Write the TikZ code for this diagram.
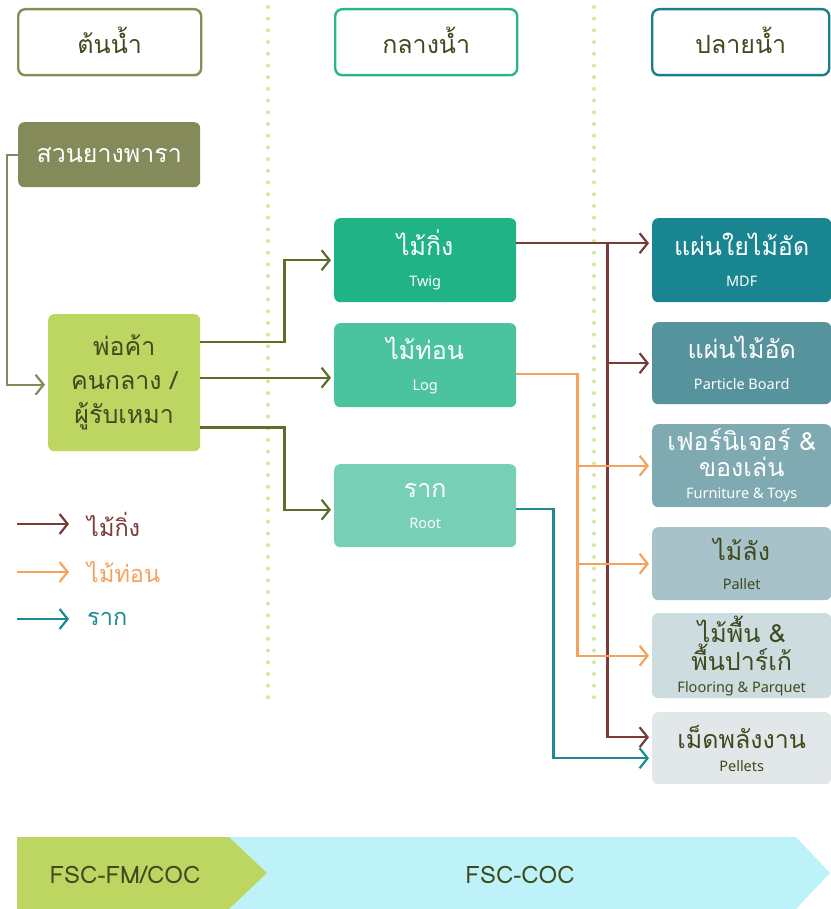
\documentclass[tikz,border=0pt]{standalone}
\usepackage{fontspec}
\setmainfont{Loma}[Script=Thai]
\newfontfamily\latinfont{Noto Sans}
\usetikzlibrary{arrows.meta,calc}

\definecolor{ink}{HTML}{3F4A1F}
\definecolor{hdrup}{HTML}{868C5A}
\definecolor{hdrmid}{HTML}{2AB58B}
\definecolor{hdrdown}{HTML}{1A7F88}
\definecolor{gardenfill}{HTML}{858A5B}
\definecolor{traderfill}{HTML}{BDD662}
\definecolor{twigfill}{HTML}{20B386}
\definecolor{logfill}{HTML}{4CC39F}
\definecolor{rootfill}{HTML}{77CFB5}
\definecolor{mdffill}{HTML}{188590}
\definecolor{pbfill}{HTML}{57939C}
\definecolor{furfill}{HTML}{7FAAB1}
\definecolor{palfill}{HTML}{A7C3C9}
\definecolor{flofill}{HTML}{CCDCDF}
\definecolor{pelfill}{HTML}{E2E8EA}
\definecolor{olivec}{HTML}{5F6D2B}
\definecolor{twigc}{HTML}{7A3A36}
\definecolor{logc}{HTML}{F5A25E}
\definecolor{rootc}{HTML}{1C8A90}
\definecolor{dotc}{HTML}{D5E79B}
\definecolor{bandgreen}{HTML}{BDD662}
\definecolor{bandcyan}{HTML}{BDF3F8}

\newcommand{\sublbl}[1]{{\latinfont\fontsize{14.5}{16}\selectfont #1}}

\begin{document}
\begin{tikzpicture}[x=1pt,y=-1pt,
  hdr/.style={draw, line width=2.4pt, rounded corners=7pt, anchor=north west,
    inner sep=0pt, minimum height=66pt, text=ink,
    font=\fontsize{25}{28}\selectfont},
  box/.style={rounded corners=6pt, anchor=north west, inner sep=0pt,
    align=center, text=white, font=\fontsize{25}{28}\selectfont},
  darktext/.style={text=ink},
  flow/.style={line width=2.2pt,
    -{Straight Barb[length=8pt,width=20pt,line width=2.2pt]}, shorten >=3pt},
  dots/.style={dotc, line width=4pt, line cap=round,
    dash pattern=on 0pt off 11.7pt},
  legendtext/.style={anchor=west, inner sep=0pt, font=\fontsize{23.5}{26}\selectfont}
]
\useasboundingbox (0,0) rectangle (830,909);

% column separators
\draw[dots] (268,7) -- (268,700);
\draw[dots] (594,7) -- (594,700);

% column headers
\node[hdr, draw=hdrup, minimum width=183pt] (hup) at (17,8) {\raisebox{3pt}{ต้นน้ำ}};
\node[hdr, draw=hdrmid, minimum width=182pt] (hmid) at (334,8) {\raisebox{3pt}{กลางน้ำ}};
\node[hdr, draw=hdrdown, minimum width=177pt] (hdown) at (651,8) {\raisebox{3pt}{ปลายน้ำ}};

% upstream
\node[box, fill=gardenfill, minimum width=182pt, minimum height=65pt] (garden)
  at (18,122) {สวนยางพารา};
\node[box, fill=traderfill, darktext, minimum width=152pt, minimum height=137pt,
  font=\fontsize{25}{34}\selectfont] (trader) at (48,314) {พ่อค้า\\คนกลาง /\\ผู้รับเหมา};

% midstream
\node[box, fill=twigfill, minimum width=182pt, minimum height=84pt] (twig) at (334,218)
  {ไม้กิ่ง\\[3pt]\sublbl{Twig}};
\node[box, fill=logfill, minimum width=182pt, minimum height=84pt] (log) at (334,323)
  {ไม้ท่อน\\[3pt]\sublbl{Log}};
\node[box, fill=rootfill, minimum width=182pt, minimum height=83pt] (root) at (334,464)
  {ราก\\[3pt]\sublbl{Root}};

% downstream
\node[box, fill=mdffill, minimum width=179pt, minimum height=84pt] (mdf) at (652,218)
  {แผ่นใยไม้อัด\\[3pt]\sublbl{MDF}};
\node[box, fill=pbfill, minimum width=179pt, minimum height=82pt] (pb) at (652,322)
  {แผ่นไม้อัด\\[3pt]\sublbl{Particle Board}};
\node[box, fill=furfill, minimum width=179pt, minimum height=83pt,
  font=\fontsize{25}{26}\selectfont] (fur) at (652,424)
  {เฟอร์นิเจอร์ \&\\ของเล่น\\[-4pt]\sublbl{Furniture \& Toys}};
\node[box, fill=palfill, darktext, minimum width=179pt, minimum height=73pt] (pal) at (652,527)
  {ไม้ลัง\\[1pt]\sublbl{Pallet}};
\node[box, fill=flofill, darktext, minimum width=179pt, minimum height=85pt,
  font=\fontsize{25}{26}\selectfont] (flo) at (652,613)
  {ไม้พื้น \&\\พื้นปาร์เก้\\[-4pt]\sublbl{Flooring \& Parquet}};
\node[box, fill=pelfill, darktext, minimum width=179pt, minimum height=72pt] (pel) at (652,712)
  {เม็ดพลังงาน\\[-5pt]\sublbl{Pellets}};

% plantation to trader
\draw[flow, gardenfill] (garden.west) -- ++(-11,0) |- ($(trader.west)+(0,2)$);

% trader to the three wood types
\draw[flow, olivec] ($(trader.north east)+(0,28)$) -- ++(84,0) |- (twig.west);
\draw[flow, olivec] ($(trader.east)+(0,-5)$) coordinate (tl) -- (tl -| log.west);
\draw[flow, olivec] ($(trader.south east)+(0,-24)$) -- ++(84,0) |- ($(root.west)+(0,4)$);

% twig products
\draw[flow, twigc] ($(twig.east)+(0,-17)$) coordinate (t0) -- (t0 -| mdf.west);
\coordinate (tb) at ($(t0)+(91,0)$);
\draw[flow, twigc] (tb) |- (pb.west);
\draw[flow, twigc] (tb) |- ($(pel.west)+(0,-11)$);

% log products
\coordinate (l0) at ($(log.east)+(0,9)$);
\coordinate (lb) at ($(l0)+(61,0)$);
\draw[flow, logc] (l0) -- (lb) |- (flo.west);
\draw[flow, logc] (lb |- fur.west) -- (fur.west);
\draw[flow, logc] (lb |- pal.west) -- (pal.west);

% root products
\draw[flow, rootc] ($(root.east)+(0,3)$) -- ++(37,0) |- ($(pel.west)+(0,10)$);

% legend
\node[legendtext, text=twigc] (lg1) at (87,524) {ไม้กิ่ง};
\node[legendtext, text=logc] (lg2) at (87,572) {ไม้ท่อน};
\node[legendtext, text=rootc] (lg3) at (87,619) {ราก};
\coordinate (lg1s) at (17,524);
\coordinate (lg2s) at (17,572);
\coordinate (lg3s) at (17,619);
\draw[flow, twigc, shorten >=0pt] (lg1s) -- ($(lg1.west)+(-18,0)$);
\draw[flow, logc, shorten >=0pt] (lg2s) -- ($(lg2.west)+(-18,0)$);
\draw[flow, rootc, shorten >=0pt] (lg3s) -- ($(lg3.west)+(-18,0)$);

% certification band
\fill[bandcyan] (229,837) -- (796,837) -- (830,873) -- (796,909) -- (229,909)
  -- (267,873) -- cycle;
\fill[bandgreen] (17,837) -- (229,837) -- (267,873) -- (229,909) -- (17,909) -- cycle;
\node[text=ink, font=\fontsize{24}{26}\selectfont] (fm) at (125,875) {FSC-FM/COC};
\node[text=ink, font=\fontsize{24}{26}\selectfont] (coc) at (520,875) {FSC-COC};
\end{tikzpicture}
\end{document}
